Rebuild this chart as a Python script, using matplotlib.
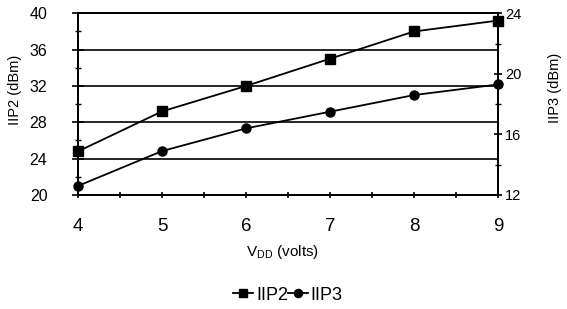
import matplotlib
matplotlib.use("Agg")
import matplotlib.pyplot as plt
from matplotlib.ticker import MultipleLocator

plt.rcParams['font.family'] = ['Liberation Sans', 'DejaVu Sans']

vdd = [4, 5, 6, 7, 8, 9]
iip2 = [24.8, 29.2, 32.0, 35.0, 38.0, 39.2]
iip3 = [12.6, 14.9, 16.4, 17.5, 18.6, 19.3]
left_ticks = [20, 24, 28, 32, 36, 40]
right_ticks = [12, 16, 20, 24]

fig = plt.figure(figsize=(5.67, 3.09), dpi=100)
ax = fig.add_axes([78/567, 1-195/309, (498-78)/567, (195-13.3)/309])
ax2 = ax.twinx()

ax.set_xlim(4, 9)
ax.set_ylim(20, 40)
ax2.set_ylim(12, 24)

for y in [24, 28, 32, 36, 40]:
    ax.axhline(y, color='black', lw=1.2, zorder=1)

l2, = ax.plot(vdd, iip2, color='black', lw=1.3, marker='s', ms=6.5, clip_on=False, zorder=3, label='IIP2')
l3, = ax2.plot(vdd, iip3, color='black', lw=1.3, marker='o', ms=6.5, clip_on=False, zorder=3, label='IIP3')

ax.set_yticks(left_ticks)
ax.yaxis.set_minor_locator(MultipleLocator(2))
ax2.set_yticks(right_ticks)
ax2.yaxis.set_minor_locator(MultipleLocator(2))
ax.set_xticks(vdd)
ax.xaxis.set_minor_locator(MultipleLocator(0.5))

for a in (ax, ax2):
    for s in a.spines.values():
        s.set_linewidth(1.3)
        s.set_color('black')

ax.tick_params(axis='y', which='major', direction='inout', length=8, width=1.2, labelsize=11.5, pad=18)
ax.tick_params(axis='y', which='minor', direction='inout', length=4.5, width=1.0)
ax.tick_params(axis='x', which='both', direction='inout', length=5, width=1.2)
ax.tick_params(axis='x', which='major', labelsize=13.5, pad=14)
ax2.tick_params(axis='y', which='major', direction='inout', length=6, width=1.2, labelsize=10.5, pad=2)
ax2.tick_params(axis='y', which='minor', direction='inout', length=4.5, width=1.0)

ax.set_ylabel('IIP2 (dBm)', fontsize=10.5)
ax.yaxis.set_label_coords(-0.133, 0.58)
ax2.set_ylabel('IIP3 (dBm)', fontsize=10.5)
ax2.yaxis.set_label_coords(1.12, 0.59)
ax.set_xlabel(r'V$_{\mathregular{DD}}$ (volts)', fontsize=11)
ax.xaxis.set_label_coords(0.488, -0.265)

fig.legend(handles=[l2, l3], loc='center', bbox_to_anchor=(0.508, 1-295/309), ncol=2,
           frameon=False, fontsize=13, handlelength=1.1, handletextpad=0.15,
           columnspacing=0.0, markerscale=0.9)

fig.savefig('out.png', dpi=100)
